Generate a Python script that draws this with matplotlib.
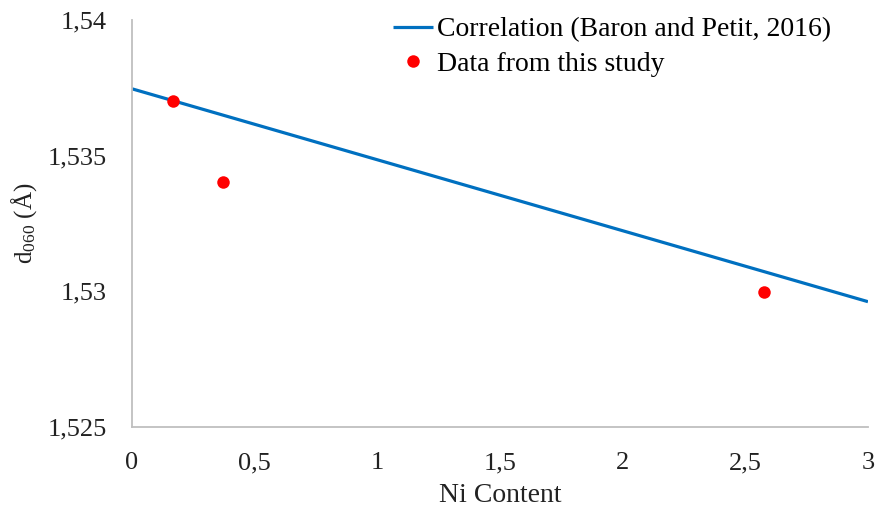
import matplotlib
matplotlib.use("Agg")
from matplotlib import pyplot as plt
from matplotlib.ticker import FuncFormatter

# correlation line end points (Baron and Petit, 2016)
line_x = [0, 3]
line_y = [1.53746, 1.52961]

# measured samples
ni_content = [0.168, 0.37, 2.578]
d060 = [1.53702, 1.53404, 1.52998]

x_ticks = [0, 0.5, 1, 1.5, 2, 2.5, 3]
y_ticks = [1.525, 1.53, 1.535, 1.54]

plt.rcParams['font.family'] = ['Liberation Serif', 'DejaVu Serif']
plt.rcParams['mathtext.fontset'] = 'custom'
plt.rcParams['mathtext.rm'] = 'Liberation Serif'
plt.rcParams['mathtext.it'] = 'Liberation Serif:italic'


def comma(v, pos):
    s = ('%.3f' % v).rstrip('0').rstrip('.')
    return s.replace('.', ',')


fig = plt.figure(figsize=(8.77, 5.11), dpi=100)
ax = fig.add_axes([0.1505, 0.165, 0.8392, 0.796])

ax.plot(line_x, line_y, color='#0070C0', lw=2.3, solid_capstyle='butt',
        label='Correlation (Baron and Petit, 2016)')
ax.plot(ni_content, d060, 'o', color='#FF0000', ms=9, mec='none',
        label='Data from this study')

ax.set_xlim(0, 3)
ax.set_ylim(1.525, 1.54)
ax.set_xticks(x_ticks)
ax.set_yticks(y_ticks)
ax.xaxis.set_major_formatter(FuncFormatter(comma))
ax.yaxis.set_major_formatter(FuncFormatter(comma))
ax.tick_params(axis='both', length=0, labelsize=19, colors='#222222')
ax.tick_params(axis='y', pad=18)
ax.tick_params(axis='x', pad=18.5)

for s in ['top', 'right']:
    ax.spines[s].set_visible(False)
for s in ['left', 'bottom']:
    ax.spines[s].set_color('#BFBFBF')
    ax.spines[s].set_linewidth(1.3)

ax.set_xlabel('Ni Content', fontsize=20, color='#222222', labelpad=6)
ax.set_ylabel(r'd$_{060}$ (Å)', fontsize=18, color='#222222', labelpad=6)

ax.legend(loc='upper left', bbox_to_anchor=(0.3546, 1.007), frameon=False,
          fontsize=20, handlelength=1.44, handletextpad=0.15,
          labelspacing=0.31, borderpad=0, borderaxespad=0)

plt.savefig('out.png', dpi=100)
plt.close(fig)
